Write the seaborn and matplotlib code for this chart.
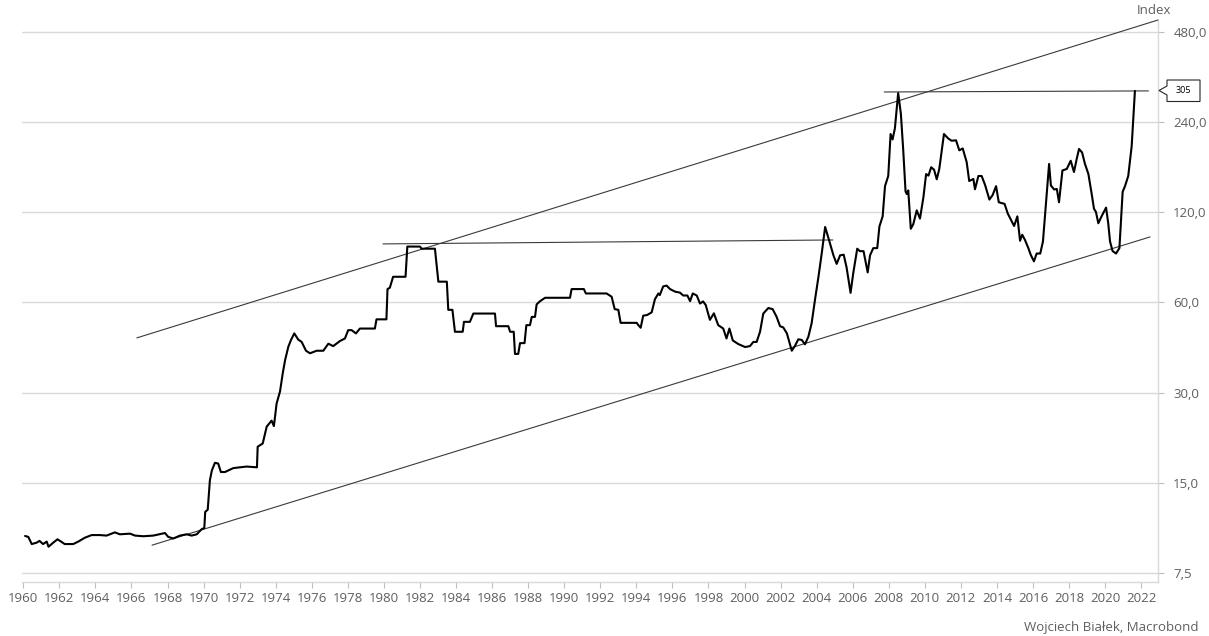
import numpy as np
import pandas as pd
import matplotlib
matplotlib.use("Agg")
import matplotlib.pyplot as plt
import matplotlib.ticker as mticker
from matplotlib.patches import Polygon
import seaborn as sns

# ---------------- data ----------------
years = [
    1960.1, 1960.28, 1960.47, 1960.74, 1960.9, 1961.1, 1961.3, 1961.4, 1961.66, 1961.9,
    1962.3, 1962.77, 1963.05, 1963.42, 1963.79, 1964.25, 1964.62, 1965.08, 1965.36, 1965.92,
    1966.2, 1966.66, 1967.21, 1967.86, 1968.04, 1968.32, 1968.69, 1969.06, 1969.34, 1969.62,
    1969.89, 1970.04, 1970.09, 1970.23, 1970.35, 1970.46, 1970.63, 1970.81, 1970.96, 1971.19,
    1971.37, 1971.65, 1972.02, 1972.39, 1972.96, 1973.0, 1973.28, 1973.5, 1973.77, 1973.9,
    1974.05, 1974.24, 1974.39, 1974.52, 1974.7, 1974.85, 1975.03, 1975.25, 1975.44, 1975.68,
    1975.9, 1976.27, 1976.64, 1976.92, 1977.19, 1977.56, 1977.84, 1978.02, 1978.21, 1978.45,
    1978.67, 1979.5, 1979.59, 1980.14, 1980.2, 1980.33, 1980.51, 1981.2, 1981.3, 1982.0,
    1982.09, 1982.83, 1983.02, 1983.49, 1983.57, 1983.8, 1983.94, 1984.37, 1984.44, 1984.77,
    1984.96, 1986.16, 1986.22, 1986.9, 1987.0, 1987.2, 1987.27, 1987.45, 1987.55, 1987.8,
    1987.9, 1988.1, 1988.2, 1988.38, 1988.47, 1988.66, 1988.94, 1990.32, 1990.41, 1991.09,
    1991.2, 1992.35, 1992.63, 1992.8, 1993.0, 1993.13, 1994.02, 1994.1, 1994.24, 1994.38,
    1994.6, 1994.85, 1995.03, 1995.22, 1995.3, 1995.49, 1995.68, 1995.87, 1996.15, 1996.42,
    1996.6, 1996.83, 1996.98, 1997.13, 1997.35, 1997.53, 1997.7, 1997.85, 1998.08, 1998.3,
    1998.54, 1998.82, 1999.0, 1999.16, 1999.35, 1999.65, 2000.03, 2000.3, 2000.49, 2000.67,
    2000.86, 2001.04, 2001.32, 2001.56, 2001.78, 2001.97, 2002.15, 2002.35, 2002.62, 2002.8,
    2002.98, 2003.17, 2003.35, 2003.54, 2003.72, 2003.91, 2004.1, 2004.28, 2004.47, 2004.65,
    2004.93, 2005.11, 2005.3, 2005.5, 2005.66, 2005.88, 2006.03, 2006.25, 2006.4, 2006.6,
    2006.83, 2006.96, 2007.14, 2007.36, 2007.48, 2007.66, 2007.79, 2007.97, 2008.1, 2008.21,
    2008.34, 2008.52, 2008.67, 2008.8, 2008.93, 2009.0, 2009.08, 2009.22, 2009.36, 2009.55,
    2009.73, 2009.92, 2010.07, 2010.2, 2010.35, 2010.51, 2010.66, 2010.8, 2011.06, 2011.3,
    2011.48, 2011.73, 2011.91, 2012.1, 2012.32, 2012.46, 2012.69, 2012.78, 2012.97, 2013.15,
    2013.34, 2013.58, 2013.76, 2013.95, 2014.1, 2014.25, 2014.42, 2014.6, 2014.79, 2014.95,
    2015.13, 2015.28, 2015.4, 2015.55, 2015.74, 2015.87, 2016.05, 2016.2, 2016.4, 2016.55,
    2016.67, 2016.77, 2016.89, 2016.99, 2017.17, 2017.32, 2017.44, 2017.63, 2017.87, 2018.09,
    2018.27, 2018.42, 2018.55, 2018.72, 2018.88, 2019.07, 2019.25, 2019.38, 2019.49, 2019.62,
    2019.8, 2020.05, 2020.17, 2020.27, 2020.41, 2020.6, 2020.79, 2020.97, 2021.1, 2021.28,
    2021.47, 2021.65,
]
index_values = [
    9.97, 9.9, 9.37, 9.47, 9.6, 9.37, 9.55, 9.18, 9.47, 9.72,
    9.37, 9.37, 9.55, 9.84, 10.04, 10.04, 10.0, 10.25, 10.1, 10.15,
    10.0, 9.95, 10.0, 10.2, 9.9, 9.78, 10.0, 10.1, 10.0, 10.1,
    10.5, 10.6, 12.0, 12.2, 15.3, 16.5, 17.5, 17.4, 16.3, 16.3,
    16.5, 16.8, 16.9, 17.0, 16.9, 19.8, 20.3, 23.1, 24.2, 23.2,
    27.6, 30.3, 34.8, 38.5, 42.7, 45.0, 47.3, 45.1, 44.3, 41.4,
    40.6, 41.4, 41.4, 43.7, 42.9, 44.6, 45.5, 48.5, 48.5, 47.3,
    49.1, 49.1, 52.7, 52.7, 66.5, 67.2, 73.1, 73.1, 92.2, 92.2,
    90.7, 90.7, 70.4, 70.4, 56.7, 56.7, 47.9, 47.9, 51.7, 51.7,
    55.1, 55.1, 50.0, 50.0, 47.9, 47.9, 40.4, 40.4, 43.9, 43.9,
    50.4, 50.4, 53.7, 53.7, 59.1, 60.6, 62.2, 62.2, 66.5, 66.5,
    64.3, 64.3, 62.7, 57.0, 56.7, 51.3, 51.3, 50.5, 49.4, 54.2,
    54.5, 55.6, 61.5, 64.3, 63.5, 67.9, 68.3, 66.5, 65.2, 64.7,
    63.3, 63.3, 60.6, 64.3, 63.3, 59.5, 60.5, 58.8, 52.5, 55.2,
    50.4, 49.1, 45.5, 49.1, 44.8, 43.6, 42.6, 42.9, 44.3, 44.3,
    47.9, 55.1, 57.5, 57.0, 53.7, 50.0, 49.5, 47.3, 41.4, 43.0,
    45.2, 45.0, 43.5, 46.1, 51.1, 61.4, 73.1, 87.4, 107.2, 98.6,
    86.2, 80.7, 86.2, 86.6, 78.5, 64.6, 75.2, 90.7, 89.0, 89.0,
    75.6, 86.2, 91.1, 91.1, 107.6, 116.3, 146.7, 158.6, 219.0, 210.0,
    229.0, 300.0, 256.0, 194.0, 140.7, 138.0, 142.0, 105.7, 109.6, 121.8,
    114.3, 134.7, 161.0, 159.0, 169.6, 166.5, 154.6, 167.4, 219.0, 211.5,
    208.0, 208.6, 193.2, 196.0, 176.4, 152.6, 155.0, 143.2, 158.6, 158.6,
    148.0, 132.3, 137.0, 146.7, 129.6, 128.9, 128.0, 118.8, 112.9, 108.0,
    116.3, 96.4, 101.0, 97.1, 91.1, 86.6, 82.3, 87.4, 87.4, 95.9,
    118.8, 143.0, 174.0, 147.4, 143.0, 143.5, 129.6, 165.5, 167.4, 178.3,
    163.5, 180.6, 195.2, 190.0, 174.0, 161.0, 138.4, 123.3, 120.2, 110.3,
    116.3, 124.4, 110.3, 95.9, 89.1, 87.4, 91.1, 140.5, 146.7, 158.6,
    199.5, 305.0,
]

# trend / level lines (start year, end year, start value, end value)
upper_channel_x = [1966.3, 2022.93]
upper_channel_y = [45.7, 526.0]
lower_channel_x = [1967.14, 2022.49]
lower_channel_y = [9.29, 99.3]
level_1982_x = [1979.95, 2004.9]
level_1982_y = [94.1, 97.0]
level_2008_x = [2007.75, 2022.4]
level_2008_y = [302.5, 305.0]

last_label = "305"
y_ticks = [7.5, 15, 30, 60, 120, 240, 480]
x_ticks = list(range(1960, 2023, 2))

# ---------------- styling ----------------
sns.set_theme(style="white")
plt.rcParams['font.family'] = ['Open Sans', 'DejaVu Sans']
TXT = "#5f5f5f"
GRID = "#d9d9d9"
FS = 9.5

W, H = 1209, 636
fig = plt.figure(figsize=(W / 100, H / 100), dpi=100)
ax = fig.add_axes([22 / W, 1 - 582 / H, (1158 - 22) / W, (582 - 20) / H])

df = pd.DataFrame({"year": years, "value": index_values})
sns.lineplot(data=df, x="year", y="value", ax=ax, color="black", linewidth=1.5,
             estimator=None, sort=False, zorder=4)

for xs, ys in [(upper_channel_x, upper_channel_y), (lower_channel_x, lower_channel_y),
               (level_1982_x, level_1982_y), (level_2008_x, level_2008_y)]:
    ax.plot(xs, ys, color="#3a3a3a", linewidth=0.8, zorder=3, clip_on=False)

ax.set_yscale("log", base=2)
ax.set_xlim(1959.93, 2022.93)
ax.set_ylim(7.0, 526)

ax.yaxis.tick_right()
ax.set_yticks(y_ticks)
ax.yaxis.set_major_formatter(mticker.FuncFormatter(lambda v, p: f"{v:.1f}".replace(".", ",")))
ax.yaxis.set_minor_locator(mticker.NullLocator())
ax.set_xticks(x_ticks)
ax.set_xticklabels([str(t) for t in x_ticks])
ax.xaxis.set_minor_locator(mticker.NullLocator())

ax.grid(axis="y", color=GRID, linewidth=1.0, zorder=0)
ax.grid(axis="x", visible=False)
ax.set_axisbelow(True)

for side in ["top", "left"]:
    ax.spines[side].set_visible(False)
for side in ["bottom", "right"]:
    ax.spines[side].set_visible(True)
    ax.spines[side].set_color(GRID)
    ax.spines[side].set_linewidth(1.0)

ax.tick_params(axis="x", which="major", direction="out", length=4, width=0.8,
               color="#bfbfbf", labelcolor=TXT, labelsize=FS, pad=3, bottom=True)
ax.tick_params(axis="y", which="major", direction="out", length=4, width=0.8,
               color="#bfbfbf", labelcolor=TXT, labelsize=FS, pad=7, right=True, left=False)

ax.set_xlabel("")
ax.set_ylabel("")

# "Index" unit label and credit
fig.text(1154 / W, 1 - 11 / H, "Index", ha="center", va="center", color=TXT, fontsize=FS)
fig.text(1198 / W, 1 - 627 / H, "Wojciech Białek, Macrobond", ha="right", va="center",
         color=TXT, fontsize=FS)

# callout box for last value
pts_px = [(1159, 90.5), (1167, 86), (1167, 80), (1200, 80), (1200, 101.5), (1167, 101.5), (1167, 95)]
pts = [(px / W, 1 - py / H) for px, py in pts_px]
poly = Polygon(pts, closed=True, facecolor="white", edgecolor="#262626", linewidth=0.8,
               transform=fig.transFigure, zorder=10)
fig.patches.append(poly)
fig.text(1183.5 / W, 1 - 90.5 / H, last_label, ha="center", va="center", color="black",
         fontsize=6.5, zorder=11)

fig.savefig("out.png", dpi=100)
